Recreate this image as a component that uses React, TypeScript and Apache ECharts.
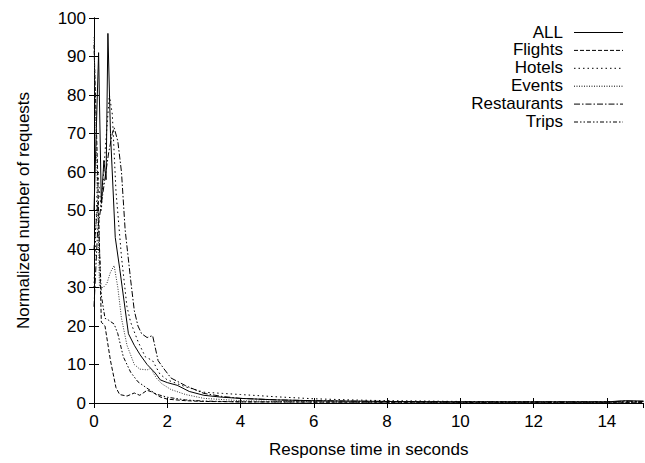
import React, { useEffect, useRef } from "react";
import * as echarts from "echarts";

const FONT = "'Liberation Sans', Arial, Helvetica, sans-serif";

const seriesNames = ["ALL", "Flights", "Hotels", "Events", "Restaurants", "Trips"];

const allT = [0, 0.06, 0.125, 0.2, 0.27, 0.33, 0.38, 0.45, 0.58, 0.7, 0.94, 1.1, 1.26, 1.45, 1.67, 1.81, 2.0, 2.27, 2.6, 3.0, 3.5, 4, 5, 6, 8, 10, 12, 14, 14.5, 15];
const allV = [50, 70, 91, 52, 63, 58, 96, 70, 43, 35, 18, 15, 12.5, 10, 7.8, 6, 5.3, 4.6, 3, 2.0, 1.5, 1.2, 0.8, 0.6, 0.4, 0.3, 0.3, 0.3, 0.6, 0.5];

const flightsT = [0, 0.1, 0.2, 0.3, 0.45, 0.6, 0.7, 0.9, 1.1, 1.25, 1.45, 1.6, 1.8, 2.0, 2.5, 3, 4, 6, 8, 10, 12, 14, 15];
const flightsV = [93, 60, 21, 20, 11, 4, 2.2, 1.8, 2.6, 2.0, 3.3, 2.8, 1.6, 1.0, 0.6, 0.4, 0.3, 0.25, 0.2, 0.2, 0.2, 0.2, 0.2];

const hotelsT = [0, 0.1, 0.2, 0.3, 0.42, 0.5, 0.6, 0.75, 0.9, 1.0, 1.2, 1.4, 1.6, 1.8, 2.0, 2.5, 3, 3.5, 4, 5, 6, 7, 8, 10, 12, 14, 15];
const hotelsV = [30, 60, 50, 65, 80, 75, 55, 38, 25, 21, 16, 12, 11, 7.5, 6, 4.2, 2.8, 2.5, 2.2, 1.6, 1.1, 0.8, 0.6, 0.4, 0.3, 0.3, 0.4];

const eventsT = [0, 0.08, 0.15, 0.25, 0.35, 0.45, 0.55, 0.65, 0.75, 0.9, 1.1, 1.25, 1.45, 1.55, 1.7, 1.85, 2.1, 2.5, 3, 4, 5, 8, 15];
const eventsV = [95, 60, 30, 30, 31, 34, 35.7, 30, 22, 15, 10, 8.8, 8.6, 9, 6.5, 5, 3.5, 2.2, 1.2, 0.6, 0.4, 0.2, 0.15];

const restaurantsT = [0, 0.1, 0.25, 0.4, 0.5, 0.55, 0.65, 0.75, 0.85, 1.0, 1.1, 1.2, 1.3, 1.45, 1.6, 1.75, 1.9, 2.1, 2.5, 3, 3.5, 4, 5, 6, 8, 10, 12, 14, 14.5, 15];
const restaurantsV = [25, 45, 55, 65, 70, 71.5, 68, 60, 45, 32, 24, 20, 18, 17, 17.5, 11, 9, 6.5, 4.5, 2.5, 1.7, 1.2, 0.8, 0.6, 0.4, 0.3, 0.3, 0.3, 0.5, 0.4];

const tripsT = [0, 0.1, 0.2, 0.3, 0.4, 0.55, 0.65, 0.8, 1.0, 1.2, 1.5, 1.7, 2.0, 2.5, 3, 4, 6, 10, 15];
const tripsV = [40, 52, 28, 22, 21.5, 20.5, 18, 12, 8, 5.5, 3.5, 2.3, 1.5, 0.8, 0.5, 0.3, 0.25, 0.2, 0.2];

const xTitle = "Response time in seconds";
const yTitle = "Normalized number of requests";

const zip = (t: number[], v: number[]) => t.map((x, i) => [x, v[i]]);

const seriesData = [
  zip(allT, allV),
  zip(flightsT, flightsV),
  zip(hotelsT, hotelsV),
  zip(eventsT, eventsV),
  zip(restaurantsT, restaurantsV),
  zip(tripsT, tripsV),
];

const dashes: (number[] | "solid")[] = [
  "solid",
  [4, 2],
  [1.5, 3],
  [1, 1.5],
  [6, 2, 1.5, 2],
  [4, 2, 1.5, 2, 1.5, 2],
];

export default function App() {
  const ref = useRef<HTMLDivElement>(null);
  useEffect(() => {
    if (!ref.current) return;
    const chart = echarts.init(ref.current, undefined, { renderer: "svg" });
    const textStyle = { fontFamily: FONT, fontSize: 17, color: "#000" };
    const baseAxis = {
      axisLine: { show: true, lineStyle: { color: "#000", width: 1 } },
      axisTick: { show: true, inside: true, length: 5, lineStyle: { color: "#000" } },
      splitLine: { show: false },
    };
    const legendTop = 32;
    const legendStep = 17.9;
    const legendGraphics: any[] = [];
    seriesNames.forEach((name, i) => {
      const y = legendTop + i * legendStep;
      legendGraphics.push({
        type: "text",
        x: 563,
        y,
        style: { text: name, align: "right", verticalAlign: "middle", font: `17px ${FONT}`, fill: "#000" },
      });
      legendGraphics.push({
        type: "line",
        shape: { x1: 574, y1: y + 0.5, x2: 623, y2: y + 0.5 },
        style: { stroke: "#000", lineWidth: 1, lineDash: dashes[i] === "solid" ? null : dashes[i] },
      });
    });
    chart.setOption({
      animation: false,
      grid: { left: 94, right: 1.5, top: 18, bottom: 55 },
      xAxis: [
        {
          ...baseAxis,
          type: "value",
          min: 0,
          max: 15,
          interval: 2,
          position: "bottom",
          axisLabel: { ...textStyle, margin: 10, showMaxLabel: false },
          name: xTitle,
          nameLocation: "middle",
          nameGap: 38,
          nameTextStyle: textStyle,
        },
        {
          ...baseAxis,
          type: "value",
          min: 0,
          max: 15,
          interval: 2,
          position: "top",
          axisLabel: { show: false },
        },
      ],
      yAxis: [
        {
          ...baseAxis,
          type: "value",
          min: 0,
          max: 100,
          interval: 10,
          position: "left",
          axisLabel: { ...textStyle, margin: 8 },
          name: yTitle,
          nameLocation: "middle",
          nameGap: 62,
          nameTextStyle: textStyle,
        },
        {
          ...baseAxis,
          type: "value",
          min: 0,
          max: 100,
          interval: 10,
          position: "right",
          axisLabel: { show: false },
        },
      ],
      series: seriesNames.map((name, i) => ({
        name,
        type: "line",
        xAxisIndex: 0,
        yAxisIndex: 0,
        data: seriesData[i],
        showSymbol: false,
        symbol: "none",
        lineStyle: { color: i === 3 ? "#333" : "#000", width: 1, type: dashes[i] },
      })),
      graphic: legendGraphics,
    });
    return () => chart.dispose();
  }, []);
  return <div ref={ref} style={{ position: "absolute", left: 0, top: 0, width: 645, height: 463 }} />;
}
